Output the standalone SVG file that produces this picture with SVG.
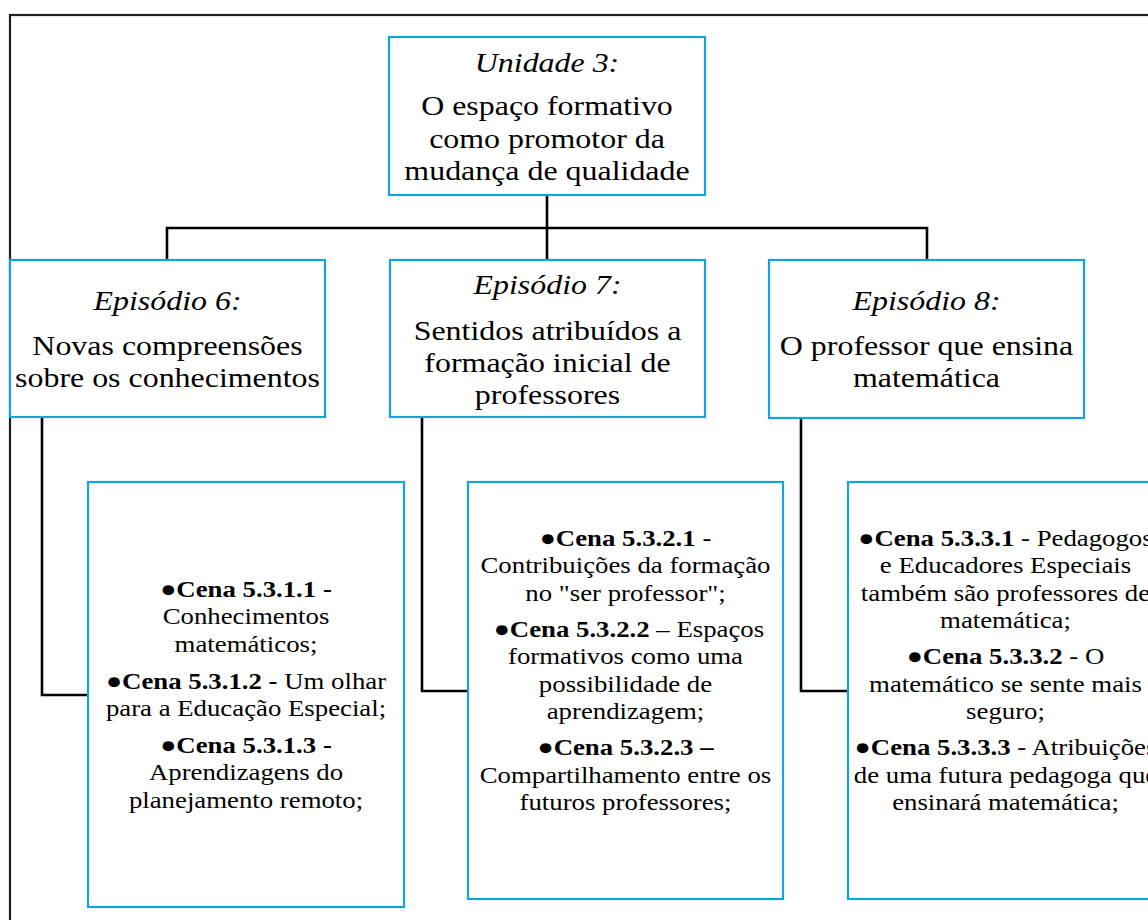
<svg xmlns="http://www.w3.org/2000/svg" width="1148" height="920" viewBox="0 0 1148 920">
  <style>
    .box { fill: #ffffff; stroke: #14a3de; stroke-width: 2.2; }
    .frame { fill: none; stroke: #1e1e1e; stroke-width: 2.2; }
    .link { fill: none; stroke: #000000; stroke-width: 2.6; }
    text { font-family: "Liberation Serif", "Times New Roman", serif; fill: #000000; text-anchor: middle; }
    .h { font-size: 28px; }
    .it { font-style: italic; }
    .s { font-size: 23.5px; }
    .b { font-weight: bold; }
  </style>

  <rect width="1148" height="920" fill="#ffffff"/>
  <!-- outer frame, running off the right and bottom edges -->
  <rect class="frame" x="10" y="15" width="1200" height="1000"/>

  <!-- connectors -->
  <g id="connectors">
    <polyline class="link" points="547,195 547,260"/>
    <polyline class="link" points="167,260 167,228 927,228 927,260"/>
    <polyline class="link" points="42,417 42,695 88,695"/>
    <polyline class="link" points="422,417 422,691 468,691"/>
    <polyline class="link" points="801,418 801,691 848,691"/>
  </g>

  <!-- unit -->
  <g id="unidade3">
    <rect class="box" x="389" y="37" width="316" height="158"/>
    <g transform="translate(547,0) scale(1.14,1)">
      <text class="h it" x="0" y="72">Unidade 3:</text>
      <text class="h" x="0" y="115.5">O espaço formativo</text>
      <text class="h" x="0" y="148">como promotor da</text>
      <text class="h" x="0" y="180">mudança de qualidade</text>
    </g>
  </g>

  <!-- episodes -->
  <g id="episodio6">
    <rect class="box" x="10" y="260" width="315" height="157"/>
    <g transform="translate(167.5,0) scale(1.14,1)">
      <text class="h it" x="0" y="310">Episódio 6:</text>
      <text class="h" x="0" y="355.5">Novas compreensões</text>
      <text class="h" x="0" y="387.5">sobre os conhecimentos</text>
    </g>
  </g>

  <g id="episodio7">
    <rect class="box" x="390" y="260" width="315" height="157"/>
    <g transform="translate(547.5,0) scale(1.14,1)">
      <text class="h it" x="0" y="294.5">Episódio 7:</text>
      <text class="h" x="0" y="340">Sentidos atribuídos a</text>
      <text class="h" x="0" y="372">formação inicial de</text>
      <text class="h" x="0" y="404">professores</text>
    </g>
  </g>

  <g id="episodio8">
    <rect class="box" x="769" y="260" width="315" height="158"/>
    <g transform="translate(926.5,0) scale(1.14,1)">
      <text class="h it" x="0" y="310">Episódio 8:</text>
      <text class="h" x="0" y="355.5">O professor que ensina</text>
      <text class="h" x="0" y="387.5">matemática</text>
    </g>
  </g>

  <!-- scenes -->
  <g id="cenas-ep6">
    <rect class="box" x="88" y="482" width="316" height="425"/>
    <g transform="translate(246,0) scale(1.14,1)">
      <text class="s b" x="0" y="597">●Cena 5.3.1.1 -</text>
      <text class="s" x="0" y="624.5">Conhecimentos</text>
      <text class="s" x="0" y="652">matemáticos;</text>
      <text class="s" x="0" y="689"><tspan class="b">●Cena 5.3.1.2 -</tspan> Um olhar</text>
      <text class="s" x="0" y="716.5">para a Educação Especial;</text>
      <text class="s b" x="0" y="753">●Cena 5.3.1.3 -</text>
      <text class="s" x="0" y="780.5">Aprendizagens do</text>
      <text class="s" x="0" y="808">planejamento remoto;</text>
    </g>
  </g>

  <g id="cenas-ep7">
    <rect class="box" x="468" y="482" width="315" height="417"/>
    <g transform="translate(625.5,0) scale(1.14,1)">
      <text class="s" x="0" y="546"><tspan class="b">●Cena 5.3.2.1</tspan> -</text>
      <text class="s" x="0" y="573.5">Contribuições da formação</text>
      <text class="s" x="0" y="601">no "ser professor";</text>
      <text class="s" x="3" y="637"><tspan class="b">●Cena 5.3.2.2</tspan> – Espaços</text>
      <text class="s" x="0" y="664.5">formativos como uma</text>
      <text class="s" x="0" y="692">possibilidade de</text>
      <text class="s" x="0" y="719.5">aprendizagem;</text>
      <text class="s b" x="0" y="755.5">●Cena 5.3.2.3 –</text>
      <text class="s" x="0" y="783">Compartilhamento entre os</text>
      <text class="s" x="0" y="810.5">futuros professores;</text>
    </g>
  </g>

  <g id="cenas-ep8">
    <rect class="box" x="848" y="482" width="315" height="417"/>
    <g transform="translate(1005.5,0) scale(1.14,1)">
      <text class="s" x="0" y="546"><tspan class="b">●Cena 5.3.3.1</tspan> - Pedagogos</text>
      <text class="s" x="0" y="573.5">e Educadores Especiais</text>
      <text class="s" x="0" y="601">também são professores de</text>
      <text class="s" x="0" y="628.5">matemática;</text>
      <text class="s" x="0" y="664.5"><tspan class="b">●Cena 5.3.3.2</tspan> - O</text>
      <text class="s" x="0" y="692">matemático se sente mais</text>
      <text class="s" x="0" y="719.5">seguro;</text>
      <text class="s" x="0" y="755.5"><tspan class="b">●Cena 5.3.3.3</tspan> - Atribuições</text>
      <text class="s" x="0" y="783">de uma futura pedagoga que</text>
      <text class="s" x="0" y="810.5">ensinará matemática;</text>
    </g>
  </g>
</svg>
